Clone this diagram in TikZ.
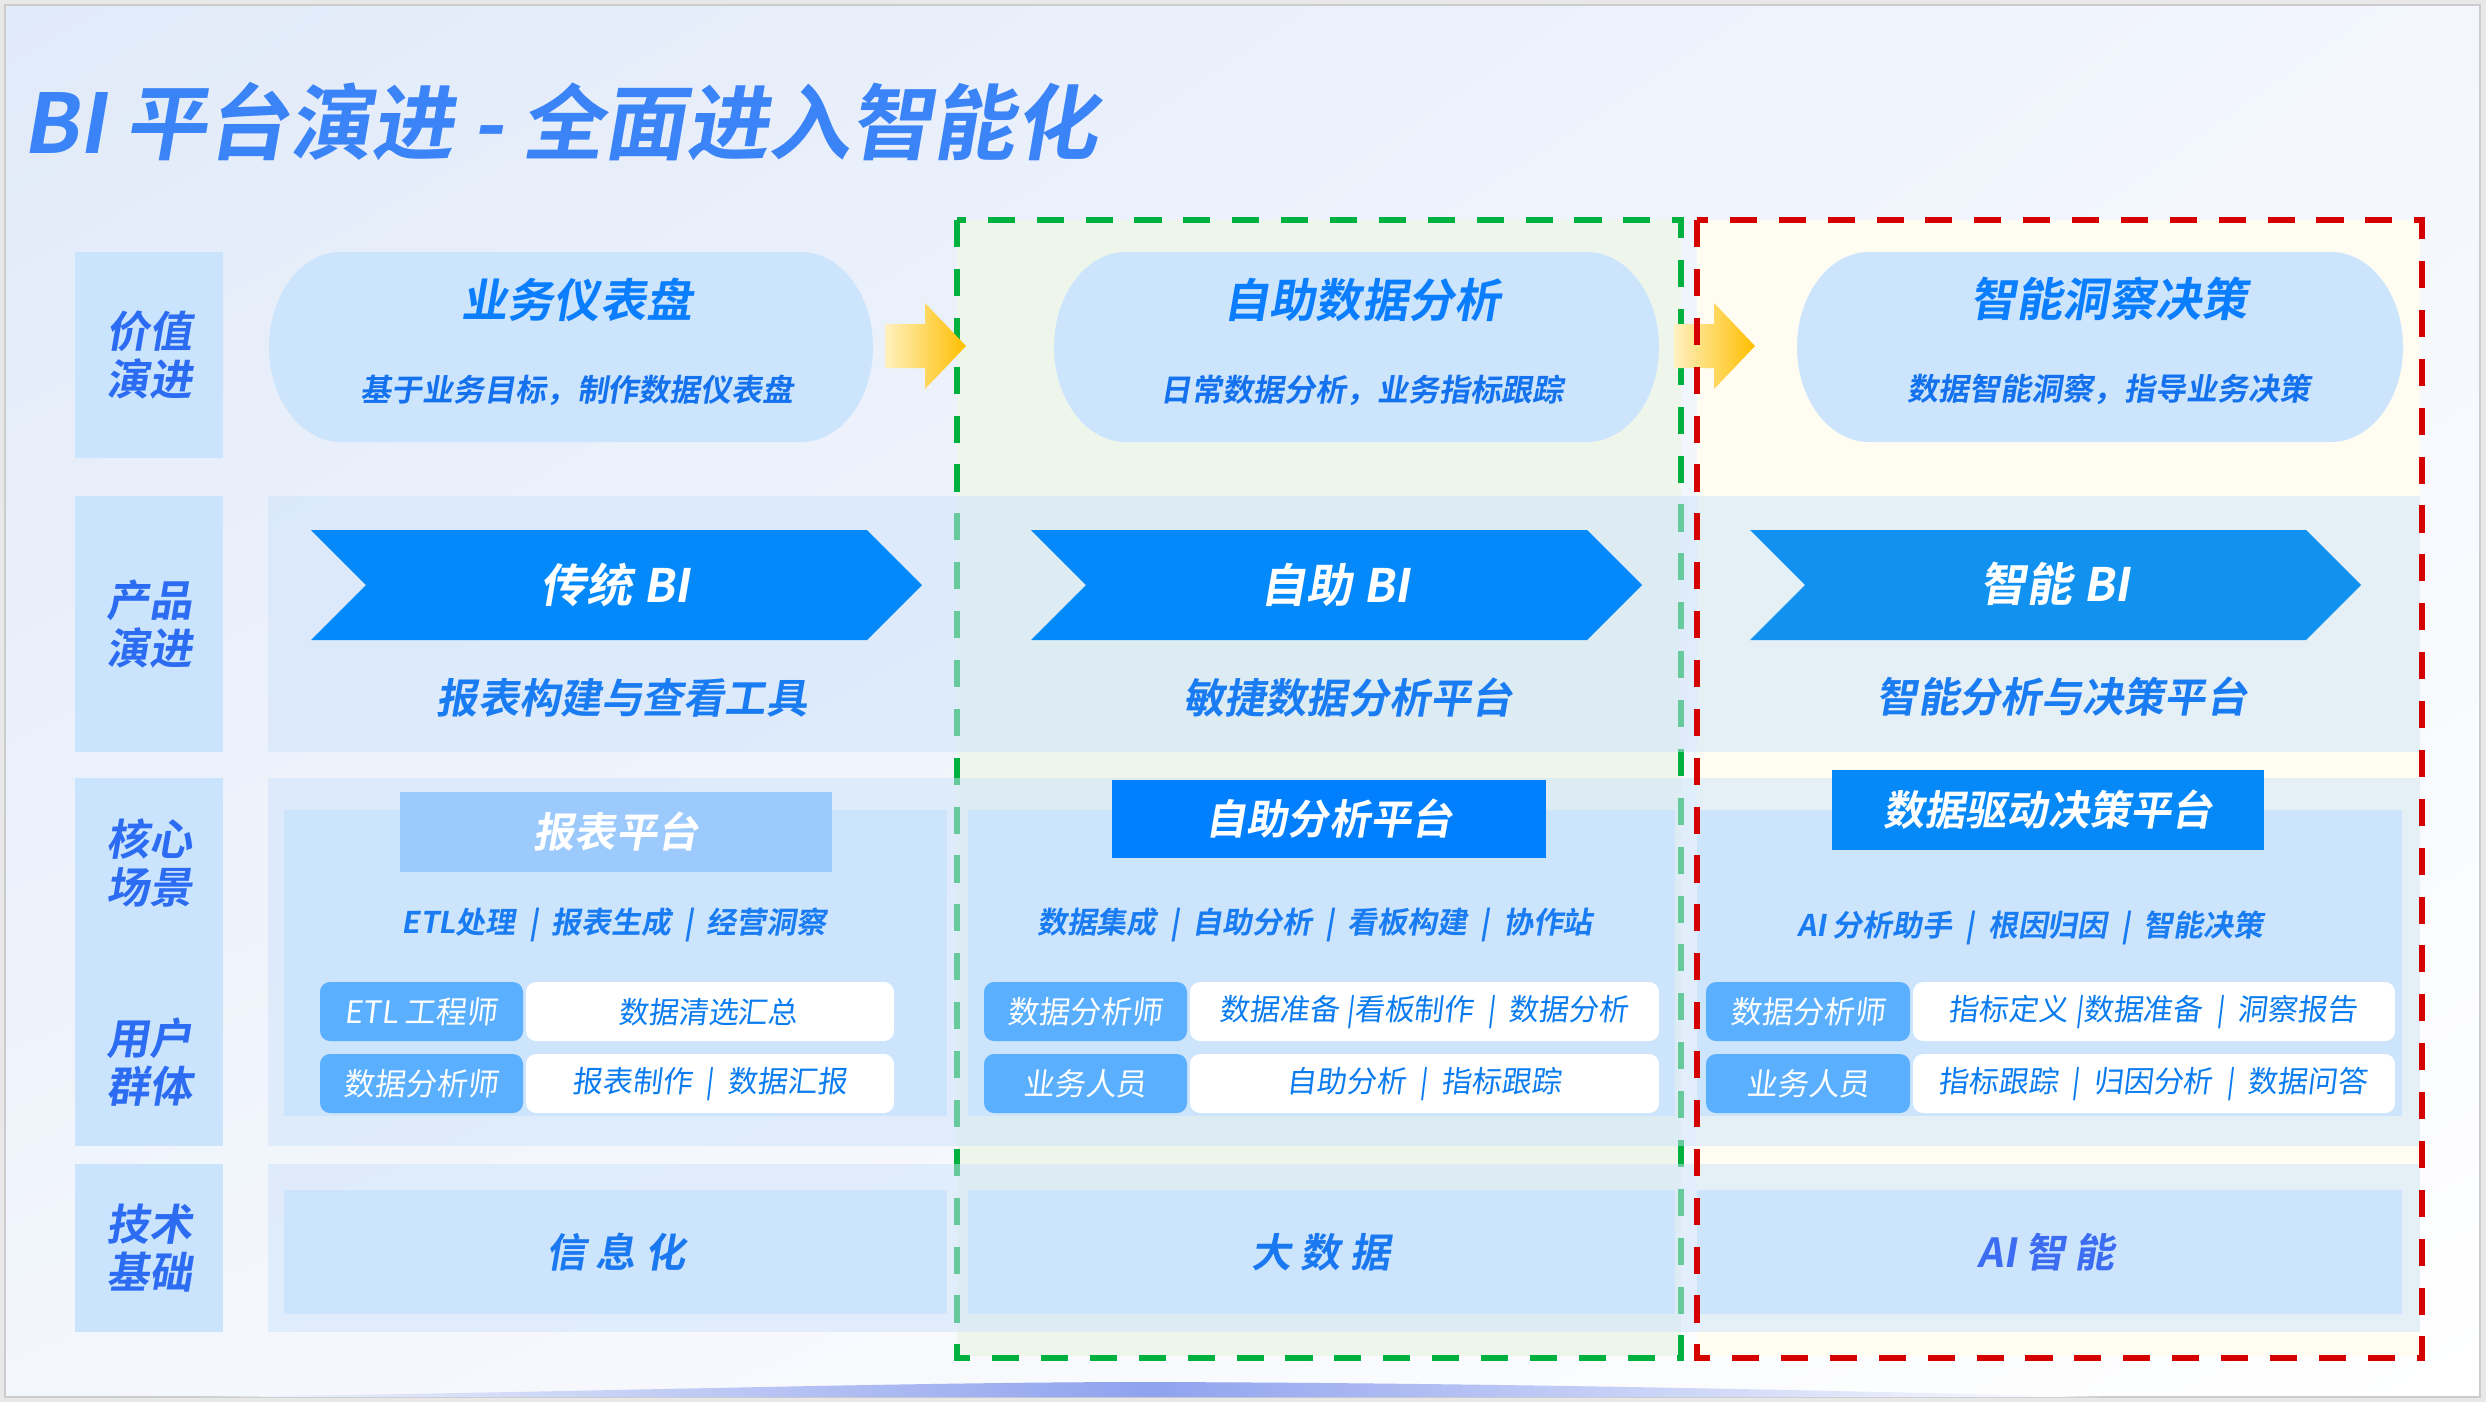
\documentclass[tikz,border=0pt]{standalone}
\usepackage{fontspec}
\usetikzlibrary{shadings}
\newfontfamily\cjkb[FakeSlant=0.17]{Noto Sans CJK SC Bold}
\newfontfamily\cjkr[FakeSlant=0.12]{Noto Sans CJK SC}
\definecolor{bgA}{HTML}{E1EAF9}
\definecolor{bgB}{HTML}{F3F6FD}
\definecolor{bgC}{HTML}{F3F6FC}
\definecolor{strip}{HTML}{8FA2EE}
\definecolor{ttl}{HTML}{3B84F7}
\definecolor{lbltxt}{HTML}{2C6CF2}
\definecolor{lblbox}{HTML}{CBE4FD}
\definecolor{band}{HTML}{CDE3FB}
\definecolor{panel}{HTML}{CCE4FC}
\definecolor{pilltxt}{HTML}{0A7EFF}
\definecolor{subtxt}{HTML}{1472EE}
\definecolor{chevA}{HTML}{0489FA}
\definecolor{chevB}{HTML}{1191F0}
\definecolor{desc}{HTML}{1A7CF2}
\definecolor{hdrA}{HTML}{9CCAFC}
\definecolor{hdrB}{HTML}{0080FF}
\definecolor{hdrC}{HTML}{0588F8}
\definecolor{tagfill}{HTML}{5AAFFF}
\definecolor{boxtxt}{HTML}{0A7CF0}
\definecolor{frG}{HTML}{00B140}
\definecolor{frR}{HTML}{D50000}
\definecolor{fillG}{HTML}{EEF6EC}
\definecolor{fillR}{HTML}{FFFCF2}
\definecolor{arrL}{HTML}{FFF1BF}
\definecolor{arrR}{HTML}{FFBE00}
\definecolor{tech}{HTML}{1A78F0}
\definecolor{techai}{HTML}{3B6CF2}
\newcommand\sep{\hspace{0.45em}|\hspace{0.45em}}

\begin{document}
\begin{tikzpicture}[x=0.01cm,y=-0.01cm,
	ttlstyle/.style={text=ttl,anchor=west,inner sep=0,font=\cjkb\fontsize{23.4}{27}\selectfont},
	lbl/.style={text=lbltxt,align=center,inner sep=0,font=\cjkb\fontsize{12.2}{13.7}\selectfont},
	ptitle/.style={text=pilltxt,inner sep=0,font=\cjkb\fontsize{13.1}{15}\selectfont},
	psub/.style={text=subtxt,inner sep=0,font=\cjkb\fontsize{8.8}{10}\selectfont},
	chevtxt/.style={text=white,inner sep=0,font=\cjkb\fontsize{13.1}{15}\selectfont},
	desctxt/.style={text=desc,inner sep=0,font=\cjkb\fontsize{11.7}{13}\selectfont},
	hdrtxt/.style={text=white,inner sep=0,font=\cjkb\fontsize{11.7}{13}\selectfont},
	feat/.style={text=desc,inner sep=0,font=\cjkb\fontsize{8.5}{10}\selectfont},
	role/.style={text=white,inner sep=0,font=\cjkr\fontsize{8.8}{10}\selectfont},
	duty/.style={text=boxtxt,inner sep=0,font=\cjkr\fontsize{8.5}{10}\selectfont},
	techtxt/.style={text=tech,inner sep=0,font=\cjkb\fontsize{11.4}{13}\selectfont},
	frame/.style={line width=1.85pt,dash pattern=on 7.7pt off 6.2pt}]
	\useasboundingbox (0,0) rectangle (2486,1402);
	\fill[gray!18] (0,0) rectangle (2486,1402);
	\shadedraw[upper left=bgA, upper right=bgB, lower left=bgC, lower right=white, draw=gray!40, line width=0.4pt] (5,5) rectangle (2480,1397);
	\shade[left color=bgC, right color=strip] (200,1397) .. controls (600,1392) and (900,1382) .. (1150,1382) -- (1150,1397) -- cycle;
	\shade[left color=strip, right color=white] (1150,1382) .. controls (1500,1383) and (1800,1390) .. (2100,1397) -- (1150,1397) -- cycle;
	\node[ttlstyle] (title) at (22,122) {BI 平台演进 - 全面进入智能化};
	\fill[fillG] (957,220) rectangle (1681,1356);
	\fill[fillR] (1697,220) rectangle (2420,1356);
	\draw[frG, frame] (957,220) rectangle (1681,1358);
	\foreach \t/\b in {252/458,496/752,778/1146,1164/1332}
		\fill[lblbox] (75,\t) rectangle (223,\b);
	\foreach \t/\b in {496/752,778/1146,1164/1332}
		\fill[band, fill opacity=0.5] (268,\t) rectangle (2420,\b);
	\foreach \a/\b in {284/947,968/1675,1697/2402} {
		\fill[panel] (\a,810) rectangle (\b,1116);
		\fill[panel] (\a,1190) rectangle (\b,1314);
	}
	\foreach \a/\b in {269/873,1054/1659,1797/2403}
		\fill[panel] (\a+72,252) -- (\b-72,252) .. controls (\b-32,252) and (\b,295) .. (\b,347) .. controls (\b,399) and (\b-32,442) .. (\b-72,442) -- (\a+72,442) .. controls (\a+32,442) and (\a,399) .. (\a,347) .. controls (\a,295) and (\a+32,252) .. cycle;
	\foreach \a in {885,1674}
		\shade[left color=arrL, right color=arrR] (\a,324) -- (\a+40,324) -- (\a+40,303) -- (\a+81,346) -- (\a+40,389) -- (\a+40,368) -- (\a,368) -- cycle;
	\foreach \a/\c in {311/chevA,1031/chevA,1750/chevB}
		\fill[\c] (\a,530) -- (\a+556,530) -- (\a+611,585) -- (\a+556,640) -- (\a,640) -- (\a+55,585) -- cycle;
	\fill[hdrA] (400,792) rectangle (832,872);
	\fill[hdrB] (1112,780) rectangle (1546,858);
	\fill[hdrC] (1832,770) rectangle (2264,850);
	\foreach \a/\b/\c in {320/523/894,984/1187/1659,1706/1910/2395}
		\foreach \t in {982,1054} {
			\fill[tagfill, rounded corners=0.1cm] (\a,\t) rectangle (\b,\t+59);
			\fill[white, rounded corners=0.1cm] (\b+3,\t) rectangle (\c,\t+59);
		}
	\draw[frR, frame] (1697,220) rectangle (2422,1358);
	\node[lbl] (lblvalue) at (149,355) {价值\\演进};
	\node[lbl] (lblproduct) at (149,624) {产品\\演进};
	\node[lbl] (lblscene) at (149,863) {核心\\场景};
	\node[lbl] (lbluser) at (149,1062) {用户\\群体};
	\node[lbl] (lbltech) at (149,1248) {技术\\基础};
	\node[ptitle] (valueA) at (577,300) {业务仪表盘};
	\node[psub] (valueAsub) at (577,390) {基于业务目标，制作数据仪表盘};
	\node[ptitle] (valueB) at (1362,300) {自助数据分析};
	\node[psub] (valueBsub) at (1362,390) {日常数据分析，业务指标跟踪};
	\node[ptitle] (valueC) at (2109,299) {智能洞察决策};
	\node[psub] (valueCsub) at (2109,389) {数据智能洞察，指导业务决策};
	\node[chevtxt] (prodA) at (615,585) {传统 BI};
	\node[chevtxt] (prodB) at (1335,585) {自助 BI};
	\node[chevtxt] (prodC) at (2055,584) {智能 BI};
	\node[desctxt] (prodAdesc) at (622,698) {报表构建与查看工具};
	\node[desctxt] (prodBdesc) at (1348,698) {敏捷数据分析平台};
	\node[desctxt] (prodCdesc) at (2062,697) {智能分析与决策平台};
	\node[hdrtxt] (sceneA) at (616,832) {报表平台};
	\node[hdrtxt] (sceneB) at (1329,819) {自助分析平台};
	\node[hdrtxt] (sceneC) at (2048,810) {数据驱动决策平台};
	\node[feat] (sceneAfeat) at (614,925) {ETL处理\sep 报表生成\sep 经营洞察};
	\node[feat] (sceneBfeat) at (1315,925) {数据集成\sep 自助分析\sep 看板构建\sep 协作站};
	\node[feat] (sceneCfeat) at (2030,928) {AI 分析助手\sep 根因归因\sep 智能决策};
	\node[role] (userA1) at (421,1012) {ETL 工程师};
	\node[duty] (dutyA1) at (708,1012) {数据清选汇总};
	\node[role] (userA2) at (421,1084) {数据分析师};
	\node[duty] (dutyA2) at (710,1084) {报表制作\sep 数据汇报};
	\node[role] (userB1) at (1085,1012) {数据分析师};
	\node[duty] (dutyB1) at (1424,1012) {数据准备 |看板制作\sep 数据分析};
	\node[role] (userB2) at (1085,1084) {业务人员};
	\node[duty] (dutyB2) at (1424,1084) {自助分析\sep 指标跟踪};
	\node[role] (userC1) at (1808,1012) {数据分析师};
	\node[duty] (dutyC1) at (2153,1012) {指标定义 |数据准备\sep 洞察报告};
	\node[role] (userC2) at (1808,1084) {业务人员};
	\node[duty] (dutyC2) at (2153,1084) {指标跟踪\sep 归因分析\sep 数据问答};
	\node[techtxt] (techA) at (616,1252) {信 息 化};
	\node[techtxt] (techB) at (1321,1252) {大 数 据};
	\node[techtxt, text=techai] (techC) at (2046,1252) {AI 智 能};
\end{tikzpicture}
\end{document}
